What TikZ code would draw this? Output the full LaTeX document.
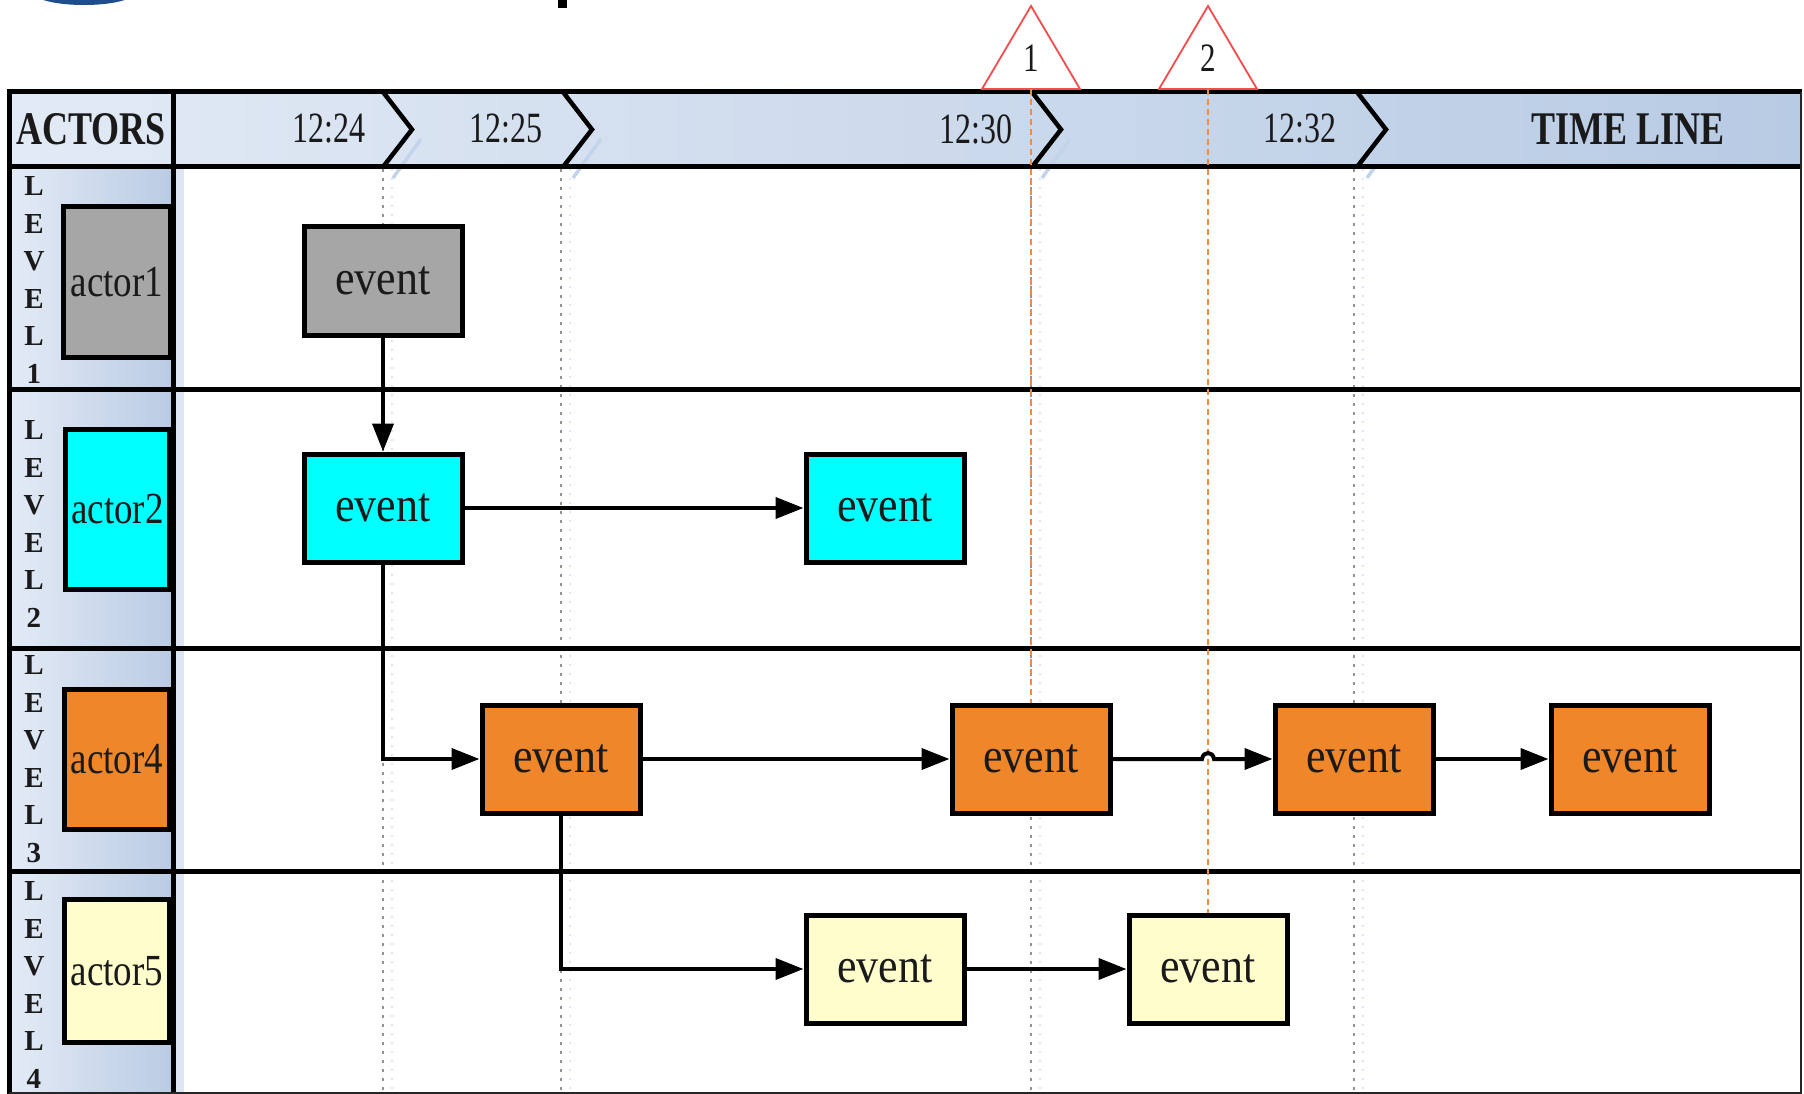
\documentclass[tikz,border=0pt]{standalone}
\usepackage{fontspec}
\usepackage{graphicx}
\setmainfont{Liberation Serif}
\usetikzlibrary{arrows.meta,calc}

\definecolor{hdrlight}{HTML}{E2EAF5}
\definecolor{hdrdark}{HTML}{B8CBE4}
\definecolor{collight}{HTML}{E4EBF6}
\definecolor{coldark}{HTML}{B9CBE3}
\definecolor{stripblue}{HTML}{DDE6F2}
\definecolor{chevshade}{HTML}{C3D4EA}
\definecolor{evgrey}{HTML}{A6A6A6}
\definecolor{evcyan}{HTML}{00FFFF}
\definecolor{evorange}{HTML}{F0862A}
\definecolor{evyellow}{HTML}{FFFDCC}
\definecolor{flagred}{HTML}{F24C4C}
\definecolor{cueorange}{HTML}{F58A3C}
\definecolor{logoblue}{HTML}{1F4E8C}
\definecolor{inktext}{HTML}{1A1A1A}

% vertically stretched text
\newcommand\vstretch[2]{\scalebox{1}[#1]{#2}}

\begin{document}
\begin{tikzpicture}[x=1pt,y=-1pt,
  hdrtext/.style={text=inktext, inner sep=0pt, font=\bfseries\fontsize{36}{40}\selectfont},
  timetext/.style={text=inktext, inner sep=0pt, font=\fontsize{32}{36}\selectfont},
  leveltext/.style={text=inktext, inner sep=0pt, align=center, font=\bfseries\fontsize{29}{37.5}\selectfont},
  actorbox/.style={draw=black, line width=5pt, inner sep=0pt, text=inktext,
                   font=\fontsize{37}{40}\selectfont},
  evbox/.style={draw=black, line width=5pt, minimum width=158pt, minimum height=108pt,
                inner sep=0pt, text=inktext, font=\fontsize{44}{48}\selectfont},
  gridline/.style={line width=5pt, black},
  thinframe/.style={line width=2pt, black!85},
  chevline/.style={line width=4.5pt, black, line join=miter},
  chevshadow/.style={line width=3.5pt, chevshade},
  tickline/.style={line width=2.8pt, gray!85, dash pattern=on 2.6pt off 6.4pt},
  tickshadow/.style={line width=1.5pt, stripblue, dash pattern=on 2pt off 7pt},
  flag/.style={draw=flagred, line width=1.8pt, fill=white, line join=miter},
  flagnum/.style={text=inktext, inner sep=0pt, font=\fontsize{31}{34}\selectfont},
  cue/.style={cueorange, line width=2pt, dash pattern=on 6pt off 4pt},
  arr/.style={line width=4pt, black, -{Triangle[length=28pt,width=21pt]}}
]
\useasboundingbox (0,0) rectangle (1804,1094);
\fill[white] (0,0) rectangle (1804,1094);

% remnants of the page heading above the chart
\begin{scope}
  \clip (0,0) rectangle (1804,1094);
  \fill[logoblue] (84,-7) ellipse [x radius=50, y radius=12];
  \fill[black] (558,0) rectangle (567,8);
\end{scope}

% header band and actor column backgrounds
\shade[left color=hdrlight, right color=hdrdark] (9,92) rectangle (1802,167);
\foreach \t/\b in {167/389, 389/648, 648/871, 871/1092}
  \shade[left color=collight, right color=coldark] (9,\t) rectangle (173,\b);
\fill[stripblue] (176,169) rectangle (184,1092);

% dotted time ticks
\foreach \x in {383,561,1031,1354} {
  \draw[tickshadow] (\x+9,169) -- (\x+9,1092);
  \draw[tickline] (\x,169) -- (\x,1092);
}

% chevrons of the time line
\foreach \x in {383,563,1032,1357} {
  \draw[chevshadow] (\x+38,139) -- (\x+10,178);
  \draw[chevline] (\x,92) -- (\x+29,129.5) -- (\x,167);
}

% table frame
\draw[gridline] (7,92) -- (1802,92);
\foreach \y in {167,389,648,871}
  \draw[gridline] (9,\y) -- (1802,\y);
\draw[gridline] (9,90) -- (9,1094);
\draw[gridline] (173,92) -- (173,1094);
\draw[thinframe] (1801,92) -- (1801,1093);
\draw[thinframe] (9,1092.5) -- (1802,1092.5);

% header labels
\node[hdrtext] (hactors) at (91,129) {\vstretch{1.3}{ACTORS}};
\node[timetext] (t1) at (329,129) {\vstretch{1.35}{12:24}};
\node[timetext] (t2) at (506,129) {\vstretch{1.35}{12:25}};
\node[timetext] (t3) at (976,129) {\vstretch{1.35}{12:30}};
\node[timetext] (t4) at (1300,129) {\vstretch{1.35}{12:32}};
\node[hdrtext] (htime) at (1628,129) {\vstretch{1.3}{TIME LINE}};

% level captions
\node[leveltext] (lv1) at (34,280) {L\\E\\V\\E\\L\\1};
\node[leveltext] (lv2) at (34,524) {L\\E\\V\\E\\L\\2};
\node[leveltext] (lv3) at (34,759) {L\\E\\V\\E\\L\\3};
\node[leveltext] (lv4) at (34,985) {L\\E\\V\\E\\L\\4};

% actors
\node[actorbox, fill=evgrey, minimum width=107pt, minimum height=151pt] (a1) at (117,282) {\vstretch{1.2}{actor1}};
\node[actorbox, fill=evcyan, minimum width=104pt, minimum height=160pt] (a2) at (117.5,509.5) {\vstretch{1.2}{actor2}};
\node[actorbox, fill=evorange, minimum width=105pt, minimum height=140pt] (a4) at (117,759.5) {\vstretch{1.2}{actor4}};
\node[actorbox, fill=evyellow, minimum width=105pt, minimum height=143pt] (a5) at (117,971) {\vstretch{1.2}{actor5}};

% milestone flags
\coordinate (m1) at (1031,89);
\coordinate (m2) at (1208,89);
\draw[flag] (1031,6) -- (1080,89) -- (982,89) -- cycle;
\draw[flag] (1208,6) -- (1257,89) -- (1159,89) -- cycle;
\node[flagnum] (f1) at (1031,58) {\vstretch{1.3}{1}};
\node[flagnum] (f2) at (1208,58) {\vstretch{1.3}{2}};

% events
\node[evbox, fill=evgrey]   (e1)  at (383,281)  {\vstretch{1.12}{event}};
\node[evbox, fill=evcyan]   (e2a) at (383,508)  {\vstretch{1.12}{event}};
\node[evbox, fill=evcyan]   (e2b) at (885,508)  {\vstretch{1.12}{event}};
\node[evbox, fill=evorange] (e3a) at (561,759)  {\vstretch{1.12}{event}};
\node[evbox, fill=evorange] (e3b) at (1031,759) {\vstretch{1.12}{event}};
\node[evbox, fill=evorange] (e3c) at (1354,759) {\vstretch{1.12}{event}};
\node[evbox, fill=evorange] (e3d) at (1630,759) {\vstretch{1.12}{event}};
\node[evbox, fill=evyellow] (e4a) at (885,969)  {\vstretch{1.12}{event}};
\node[evbox, fill=evyellow] (e4b) at (1208,969) {\vstretch{1.12}{event}};

% milestone cue lines
\draw[cue] (m1) -- (e3b.north);
\draw[cue] (m2) -- (e4b.north);

% event flow
\draw[arr] (e1) -- (e2a);
\draw[arr] (e2a) -- (e2b);
\draw[arr] (e2a.south) |- (e3a.west);
\draw[arr] (e3a) -- (e3b);
\coordinate (hop) at (m2 |- e3b.east);
\draw[arr] (e3b.east) -- ($(hop)+(-6,0)$)
  .. controls ($(hop)+(-5,-8)$) and ($(hop)+(5,-8)$) .. ($(hop)+(6,0)$) -- (e3c.west);
\draw[arr] (e3c) -- (e3d);
\draw[arr] (e3a.south) |- (e4a.west);
\draw[arr] (e4a) -- (e4b);
\end{tikzpicture}
\end{document}
